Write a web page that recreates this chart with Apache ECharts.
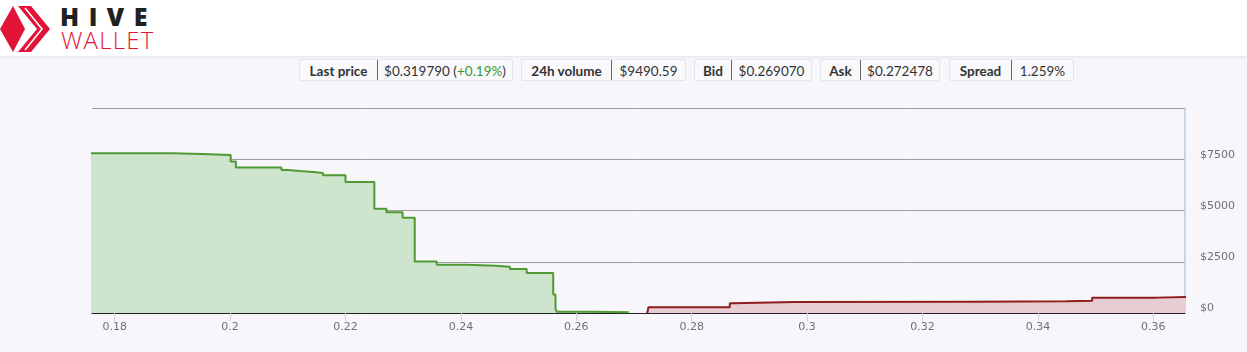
<!DOCTYPE html>
<html>
<head>
<meta charset="utf-8">
<script src="https://cdn.jsdelivr.net/npm/echarts@6/dist/echarts.min.js"></script>
<style>
  html, body { margin: 0; padding: 0; width: 1247px; height: 352px; overflow: hidden; background: #f7f7fb; font-family: Lato, "Noto Sans", sans-serif; }
  #header { position: absolute; left: 0; top: 0; width: 1247px; height: 56px; background: #ffffff; box-shadow: 0 1px 3px rgba(0,0,0,0.08); }
  #hive { position: absolute; left: 60px; top: 2px; font-family: "Open Sans", Lato, sans-serif; font-weight: 800; font-size: 25px; letter-spacing: 9.5px; color: #212121; line-height: 28px; }
  #wallet { position: absolute; left: 61px; top: 26px; font-family: "Open Sans", Lato, sans-serif; font-weight: 300; font-size: 24px; letter-spacing: 1.2px; color: #e31337; line-height: 28px; }
  .box { position: absolute; top: 59px; height: 22px; border: 1px solid #e4e4ea; border-radius: 2px; background: #f9f9fc; display: flex; font-size: 13.5px; color: #333; line-height: 22px; box-sizing: border-box; }
  .box .k { font-weight: 700; text-align: center; border-right: 1px solid #666; box-sizing: border-box; }
  .box .v { text-align: center; box-sizing: border-box; flex: 1; }
  .pos { color: #3a9a2a; }
  #chart { position: absolute; left: 0; top: 90px; width: 1247px; height: 262px; }
</style>
</head>
<body>
<div id="header">
  <svg width="54" height="56" style="position:absolute;left:0;top:0">
    <polygon points="0,29 13,6 25,29 13,52" fill="#e31337"/>
    <polygon points="18,6 31,6 50,29 31,52 18,52 37,29" fill="#e31337"/>
    <polyline points="25,8 42,29 25,50" fill="none" stroke="#ffffff" stroke-width="1.6"/>
  </svg>
  <div id="hive">HIVE</div>
  <div id="wallet">WALLET</div>
</div>
<div class="box" style="left:299px;width:214px"><div class="k" style="width:78px">Last price</div><div class="v">$0.319790 (<span class="pos">+0.19%</span>)</div></div>
<div class="box" style="left:521px;width:165px"><div class="k" style="width:90px">24h volume</div><div class="v">$9490.59</div></div>
<div class="box" style="left:694px;width:118px"><div class="k" style="width:37px">Bid</div><div class="v">$0.269070</div></div>
<div class="box" style="left:820px;width:120px"><div class="k" style="width:40px">Ask</div><div class="v">$0.272478</div></div>
<div class="box" style="left:949px;width:125px"><div class="k" style="width:62px">Spread</div><div class="v">1.259%</div></div>
<div id="chart"></div>
<script>
// Bid side: cumulative depth (price, USD), each point starts a horizontal step
const bidPrices = [0.1750, 0.1899, 0.1951, 0.2001, 0.2010, 0.2089, 0.2100, 0.2121, 0.2144, 0.2161, 0.2200, 0.2250, 0.2271, 0.2299, 0.2320, 0.2358, 0.2410, 0.2460, 0.2485, 0.2514, 0.2560, 0.2564, 0.2566, 0.2629, 0.2691];
const bidDepth  = [7794,   7760,   7711,   7387,   7093,   6976,   6927,   6880,   6830,   6716,   6387,   5083,   4917,   4642,   2515,   2353,   2300,   2260,   2142,   1946,   900,    200,    64,     34,     0];
// Ask side
const askPrices = [0.2723, 0.2725, 0.2866, 0.2872, 0.2979, 0.3288, 0.3450, 0.3494, 0.3606, 0.3700];
const askDepth  = [0,      279,    475,    539,    554,    573,    603,    750,    799,    799];
// Axis ticks
const xTicks = [0.18, 0.2, 0.22, 0.24, 0.26, 0.28, 0.3, 0.32, 0.34, 0.36];
const yTicks = [0, 2500, 5000, 7500];

const chart = echarts.init(document.getElementById('chart'), null, { renderer: 'canvas' });
chart.setOption({
  animation: false,
  backgroundColor: 'transparent',
  grid: { left: 92, right: 62, top: 18, bottom: 39 },
  xAxis: {
    type: 'value', min: 0.17607, max: 0.36549,
    axisLine: { show: true, onZero: false, lineStyle: { color: '#222', width: 1 } },
    axisTick: { show: true, length: 8, customValues: xTicks, lineStyle: { color: '#cfcfd4' } },
    axisLabel: { customValues: xTicks, margin: 9, color: '#707070', fontSize: 11, fontFamily: 'DejaVu Sans', formatter: v => String(+v.toFixed(4)) },
    splitLine: { show: false }
  },
  yAxis: {
    type: 'value', position: 'right', min: 0, max: 10000, interval: 2500,
    axisLine: { show: true, lineStyle: { color: '#b9cde2', width: 1.5 } },
    axisTick: { show: false },
    axisLabel: { customValues: yTicks, margin: 15, color: '#707070', fontSize: 11, fontFamily: 'DejaVu Sans', verticalAlign: 'bottom', lineHeight: 9, formatter: v => '$' + v },
    splitLine: { show: true, lineStyle: { color: '#9c9ca2', width: 1 } }
  },
  series: [
    {
      type: 'line', step: 'end', symbol: 'none', clip: true,
      data: bidPrices.map((p, i) => [p, bidDepth[i]]),
      lineStyle: { color: '#4f9a33', width: 2 },
      areaStyle: { color: '#cfe4cd', opacity: 1 }
    },
    {
      type: 'line', step: 'end', symbol: 'none', clip: true,
      data: askPrices.map((p, i) => [p, askDepth[i]]),
      lineStyle: { color: '#8f1d1d', width: 2 },
      areaStyle: { color: '#e6cdd1', opacity: 1 }
    }
  ]
});
</script>
</body>
</html>
